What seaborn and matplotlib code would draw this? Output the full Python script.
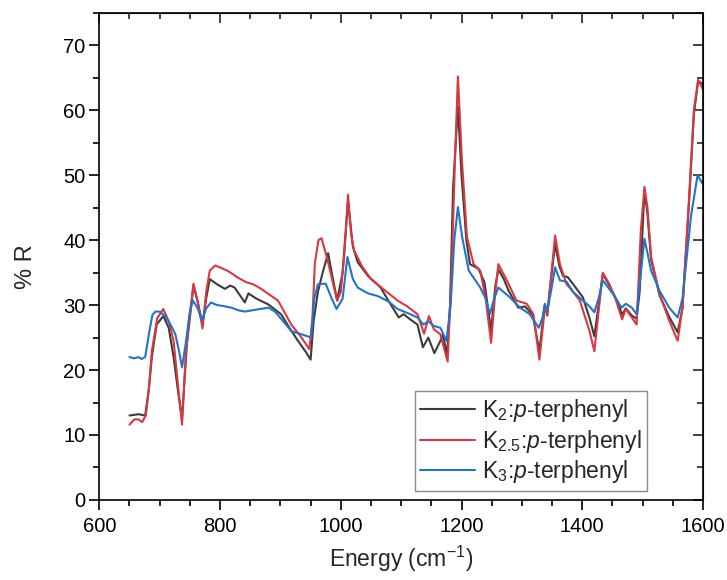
import pandas as pd
import matplotlib.pyplot as plt
import seaborn as sns
from matplotlib.ticker import MultipleLocator

# ----------- données -------------------------------

x_k2 = [650, 665, 676, 682, 687, 695, 706, 715, 723, 730, 737, 745, 756, 763, 771, 777, 783, 795,
        808, 817, 824, 833, 841, 847, 860, 880, 901, 915, 929, 942, 950, 955, 962, 970, 979, 987,
        994, 1003, 1012, 1020, 1028, 1045, 1066, 1080, 1096, 1104, 1115, 1127, 1136, 1145, 1155,
        1165, 1169, 1176, 1181, 1186, 1194, 1200, 1208, 1214, 1228, 1238, 1249, 1256, 1261, 1270,
        1278, 1294, 1305, 1318, 1329, 1334, 1338, 1342, 1347, 1355, 1362, 1368, 1376, 1385, 1401,
        1412, 1420, 1427, 1434, 1445, 1459, 1466, 1472, 1482, 1490, 1495, 1503, 1508, 1514, 1528,
        1544, 1558, 1566, 1577, 1585, 1592, 1600]
y_k2 = [13.0, 13.2, 13.0, 17, 22, 27, 28.3, 26.5, 22, 17, 12.5, 24, 33, 30.5, 27, 31, 34, 33.2,
        32.5, 33, 32.7, 31.5, 30.4, 31.8, 31, 30.1, 28.6, 26.5, 24.5, 22.8, 21.6, 27.5, 32, 35, 38, 34,
        30.7, 35, 46, 39, 36.6, 34.5, 32.7, 30.5, 28.1, 28.6, 27.8, 27, 23.5, 25, 22.6,
        24.5, 25.5, 22.3, 30, 48, 60.6, 50, 40, 36.3, 35.6, 33.5, 26, 33, 35.5, 34,
        32.2, 29.6, 29.8, 28.5, 22.9, 27, 30, 28.4, 33, 39.4, 36, 34.5, 34.3, 33.2, 31.2,
        28, 25.2, 30, 34.8, 33, 30.4, 28.5, 29.5, 28.4, 27.9, 32, 47.7, 44, 37, 31.5,
        28.2, 25.8, 29.5, 46, 59.5, 64.5, 64]

x_k25 = [650, 658, 665, 671, 677, 682, 687, 696, 706, 715, 723, 730, 737, 743, 748, 756, 763, 771,
         777, 783, 792, 805, 814, 830, 844, 855, 868, 885, 896, 918, 935, 948, 953, 957, 963, 968,
         975, 981, 988, 994, 1000, 1006, 1012, 1017, 1022, 1035, 1050, 1070, 1094, 1110, 1127, 1138,
         1146, 1154, 1165, 1177, 1184, 1189, 1194, 1201, 1209, 1220, 1231, 1240, 1249, 1255, 1261,
         1275, 1291, 1308, 1319, 1329, 1334, 1338, 1342, 1348, 1355, 1363, 1374, 1379, 1396, 1412,
         1420, 1427, 1434, 1445, 1456, 1466, 1472, 1482, 1490, 1497, 1503, 1508, 1514, 1528, 1544,
         1558, 1566, 1577, 1585, 1592, 1600]
y_k25 = [11.6, 12.4, 12.4, 12.0, 13, 17, 22.9, 28, 29.4, 27.5, 24.5, 18, 11.6, 22, 27, 33.3, 30.5, 26.4,
         32, 35.3, 36.1, 35.6, 35.2, 34.2, 33.5, 33.2, 32.5, 31.4, 30.7, 27, 25, 23.2, 28, 36.4, 40, 40.3,
         38, 35.8, 33, 30.7, 32, 38, 47, 41, 38.4, 36, 34, 32.5, 30.7, 29.8, 28.6, 25.6,
         28.3, 26.3, 25.5, 21.3, 36.3, 52, 65.2, 51.8, 40.5, 36.3, 35.3, 31, 24.2, 31, 36.3,
         33.8, 30.7, 30.2, 28.6, 21.6, 26, 29.6, 28.6, 34, 40.7, 36.3, 33.2, 32.7, 30.7, 26,
         22.9, 29, 35, 33.2, 30.7, 27.8, 29.4, 28.1, 27, 41.5, 48.2, 45, 37.4, 31.7, 27.6,
         24.5, 29.6, 46.7, 60.1, 64.7, 63.2]

x_k3 = [650, 658, 665, 670, 676, 683, 688, 693, 700, 709, 718, 726, 733, 737, 743, 750, 755, 763,
        770, 777, 785, 795, 803, 819, 830, 841, 860, 880, 891, 901, 918, 935, 951, 956, 962, 975,
        985, 993, 1003, 1011, 1020, 1028, 1045, 1061, 1080, 1094, 1110, 1127, 1137, 1145, 1154,
        1165, 1175, 1182, 1188, 1194, 1201, 1212, 1231, 1240, 1247, 1254, 1261, 1280, 1297, 1313,
        1328, 1334, 1338, 1342, 1348, 1355, 1363, 1374, 1385, 1401, 1412, 1420, 1427, 1434, 1451,
        1465, 1472, 1482, 1490, 1496, 1503, 1508, 1514, 1528, 1544, 1558, 1566, 1580, 1591, 1599]
y_k3 = [22, 21.8, 22, 21.7, 22, 26, 28.5, 29, 29, 28.3, 27, 25.5, 22.5, 20.4, 24, 29, 30.7, 29.5,
        27.6, 29.5, 30.4, 30, 29.9, 29.6, 29.2, 29, 29.3, 29.6, 29, 27.9, 26, 25.5, 25, 31, 33.2, 33.3,
        31, 29.4, 31, 37.4, 34, 32.7, 31.8, 31.4, 30.5, 29.4, 28.8, 28.1, 27, 27.5, 26.8,
        26.5, 24.5, 30, 40, 45.1, 40.5, 35.3, 32.7, 31, 28.6, 31, 32.7, 31.2, 29.6, 28.6,
        26.5, 28, 30.2, 29.1, 32, 35.8, 33.8, 33.6, 32, 30.7, 29.8, 28.9, 31, 33.8, 31.7,
        29.6, 30.2, 29.6, 28.6, 34, 40.2, 38, 35.3, 32.2, 29.6, 28.1, 31, 43.6, 50, 48.7]

labels = [r'K$_2$:$\mathit{p}$-terphenyl',
          r'K$_{2.5}$:$\mathit{p}$-terphenyl',
          r'K$_3$:$\mathit{p}$-terphenyl']
colors = ['#3c3c3c', '#d8383f', '#2672c8']

# ----------- tableau long pour seaborn ------------

frames = []
for lab, xs, ys in zip(labels, [x_k2, x_k25, x_k3], [y_k2, y_k25, y_k3]):
    frames.append(pd.DataFrame({'energy': xs, 'R': ys, 'sample': lab}))
df = pd.concat(frames, ignore_index=True)

# ----------- figure ------------

sns.set_style('ticks')
plt.rcParams['font.family'] = ['Liberation Sans', 'DejaVu Sans']
plt.rcParams['mathtext.fontset'] = 'custom'
plt.rcParams['mathtext.rm'] = 'Liberation Sans'
plt.rcParams['mathtext.it'] = 'Liberation Sans:italic'

fig, ax = plt.subplots(figsize=(7.27, 5.8), dpi=100)
fig.subplots_adjust(left=0.1366, right=0.967, top=0.978, bottom=0.138)

sns.lineplot(data=df, x='energy', y='R', hue='sample', palette=colors,
             hue_order=labels, linewidth=1.5, ax=ax)

ax.set_xlim(600, 1600)
ax.set_ylim(0, 75)
ax.xaxis.set_major_locator(MultipleLocator(200))
ax.xaxis.set_minor_locator(MultipleLocator(50))
ax.yaxis.set_minor_locator(MultipleLocator(5))
ax.set_yticks(range(0, 71, 10))

for side in ['top', 'right', 'bottom', 'left']:
    ax.spines[side].set_visible(True)
    ax.spines[side].set_linewidth(1.2)
    ax.spines[side].set_color('black')

ax.tick_params(which='both', direction='out', width=1.2, labelsize=14.5,
               top=False, right=False, colors='black')
ax.tick_params(which='major', length=7)
ax.tick_params(which='minor', length=4)
ax.tick_params(axis='x', which='major', pad=5)
ax.tick_params(axis='y', which='major', pad=3)

# graduations internes en haut et à droite (style Origin)
ax2 = ax.secondary_xaxis('top')
ax2.xaxis.set_major_locator(MultipleLocator(200))
ax2.xaxis.set_minor_locator(MultipleLocator(50))
ax2.tick_params(which='both', direction='in', width=1.2, labeltop=False)
ax2.tick_params(which='major', length=7)
ax2.tick_params(which='minor', length=4)
ax3 = ax.secondary_yaxis('right')
ax3.yaxis.set_major_locator(MultipleLocator(10))
ax3.yaxis.set_minor_locator(MultipleLocator(5))
ax3.tick_params(which='both', direction='in', width=1.2, labelright=False)
ax3.tick_params(which='major', length=7)
ax3.tick_params(which='minor', length=4)

ax.set_xlabel(r'Energy (cm$^{-1}$)', fontsize=16.5, labelpad=6)
ax.set_ylabel('% R', fontsize=17)
ax.yaxis.set_label_coords(-0.104, 0.478)

leg = ax.legend(loc='lower right', bbox_to_anchor=(0.908, 0.019), borderaxespad=0,
                fontsize=16.5, handlelength=2.4, handletextpad=0.3, borderpad=0.25,
                labelspacing=0.15, fancybox=False, framealpha=1)
leg.get_frame().set_edgecolor('#8a8a8a')
leg.get_frame().set_linewidth(1.0)
for line in leg.get_lines():
    line.set_linewidth(1.5)

plt.savefig('out.png', dpi=100)
